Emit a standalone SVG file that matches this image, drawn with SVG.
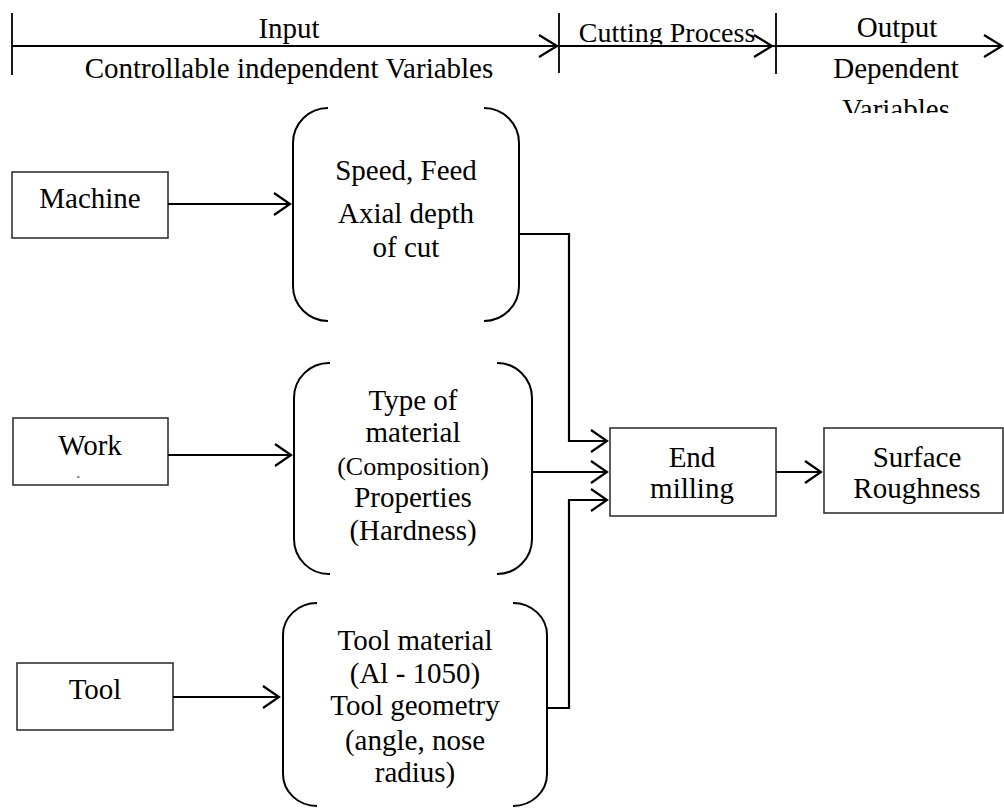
<svg xmlns="http://www.w3.org/2000/svg" width="1004" height="811" viewBox="0 0 1004 811" font-family="'Liberation Serif', 'Times New Roman', Times, 'DejaVu Serif', serif">
<style>
text{font-family:'Liberation Serif','Times New Roman',Times,'DejaVu Serif',serif;fill:#000;text-anchor:middle}
.t{font-size:29px}
.s{font-size:26px}
.box{fill:#fff;stroke:#333;stroke-width:1.6}
.br{fill:none;stroke:#000;stroke-width:2}
.ln{fill:none;stroke:#000;stroke-width:2.2}
.tk{fill:none;stroke:#000;stroke-width:1.8}
</style>
<defs>
<marker id="ah" viewBox="-20 -14 24 28" markerWidth="24" markerHeight="28" refX="0" refY="0" orient="auto" markerUnits="userSpaceOnUse">
<path d="M-16,-11 L0,0 L-16,11" fill="none" stroke="#000" stroke-width="2.2"/>
</marker>
<marker id="ahb" viewBox="-22 -14 26 28" markerWidth="26" markerHeight="28" refX="0" refY="0" orient="auto" markerUnits="userSpaceOnUse">
<path d="M-18,-11 L0,0 L-18,11" fill="none" stroke="#000" stroke-width="2.2"/>
</marker>
<clipPath id="clipCut"><rect x="560" y="0" width="215" height="44.5"/></clipPath>
<clipPath id="clipVar"><rect x="780" y="90" width="224" height="23"/></clipPath>
</defs>

<g id="timeline">
<line class="ln" x1="12" y1="46" x2="1002" y2="46"/>
<line class="ln" x1="12" y1="46" x2="557" y2="46" marker-end="url(#ahb)"/>
<line class="ln" x1="560" y1="46" x2="772" y2="46" marker-end="url(#ahb)"/>
<line class="ln" x1="776" y1="46" x2="1002" y2="46" marker-end="url(#ahb)"/>
<line class="tk" x1="12" y1="13" x2="12" y2="75"/>
<line class="tk" x1="559" y1="13" x2="559" y2="73"/>
<line class="tk" x1="776" y1="13" x2="776" y2="74"/>
<text class="t" x="289" y="38">Input</text>
<text class="t" x="289" y="78">Controllable independent Variables</text>
<text class="t" x="667" y="42" clip-path="url(#clipCut)" style="font-size:28px">Cutting Process</text>
<text class="t" x="897" y="37">Output</text>
<text class="t" x="896" y="78">Dependent</text>
<text class="t" x="896" y="119" clip-path="url(#clipVar)">Variables</text>
</g>

<g id="machine">
<rect class="box" x="12" y="172" width="156" height="66"/>
<text class="t" x="90" y="208">Machine</text>
</g>

<g id="work">
<rect class="box" x="13" y="418" width="155" height="67"/>
<text class="t" x="90" y="455">Work</text>
<line x1="77" y1="477" x2="79.5" y2="477" stroke="#444" stroke-width="1.2"/>
</g>

<g id="tool">
<rect class="box" x="17" y="663" width="156" height="67"/>
<text class="t" x="95" y="699">Tool</text>
</g>

<g id="params-machine">
<path class="br" d="M328,108 A35,35 0 0 0 293,143 V286 A35,35 0 0 0 328,321 M484,108 A35,35 0 0 1 519,143 V286 A35,35 0 0 1 484,321"/>
<text class="t" x="406" y="180">Speed, Feed</text>
<text class="t" x="406" y="223">Axial depth</text>
<text class="t" x="406" y="257">of cut</text>
</g>

<g id="params-work">
<path class="br" d="M330,363 A35,35 0 0 0 294,398 V539 A35,35 0 0 0 330,574 M497,363 A35,35 0 0 1 532,398 V539 A35,35 0 0 1 497,574"/>
<text class="t" x="413" y="410">Type of</text>
<text class="t" x="413" y="442">material</text>
<text class="s" x="413" y="475">(Composition)</text>
<text class="t" x="413" y="507">Properties</text>
<text class="t" x="413" y="540">(Hardness)</text>
</g>

<g id="params-tool">
<path class="br" d="M317,603 A34,32 0 0 0 283,635 V774 A34,32 0 0 0 317,806 M513,603 A34,32 0 0 1 547,635 V774 A34,32 0 0 1 513,806"/>
<text class="t" x="415" y="650">Tool material</text>
<text class="t" x="415" y="683">(Al - 1050)</text>
<text class="t" x="415" y="715">Tool geometry</text>
<text class="t" x="415" y="750">(angle, nose</text>
<text class="t" x="415" y="782">radius)</text>
</g>

<g id="end-milling">
<rect class="box" x="610" y="428" width="166" height="88"/>
<text class="t" x="692" y="467">End</text>
<text class="t" x="692" y="498">milling</text>
</g>

<g id="surface-roughness">
<rect class="box" x="824" y="428" width="179" height="85"/>
<text class="t" x="917" y="467">Surface</text>
<text class="t" x="917" y="498">Roughness</text>
</g>

<g id="connectors">
<line class="ln" x1="168" y1="204" x2="290" y2="204" marker-end="url(#ah)"/>
<line class="ln" x1="168" y1="455" x2="291" y2="455" marker-end="url(#ah)"/>
<line class="ln" x1="173" y1="697" x2="279" y2="697" marker-end="url(#ah)"/>
<path class="ln" d="M519,234 H569 V441 H607" marker-end="url(#ah)"/>
<path class="ln" d="M532,472 H607" marker-end="url(#ah)"/>
<path class="ln" d="M547,708 H569 V500 H607" marker-end="url(#ah)"/>
<path class="ln" d="M776,472 H821" marker-end="url(#ah)"/>
</g>
</svg>
